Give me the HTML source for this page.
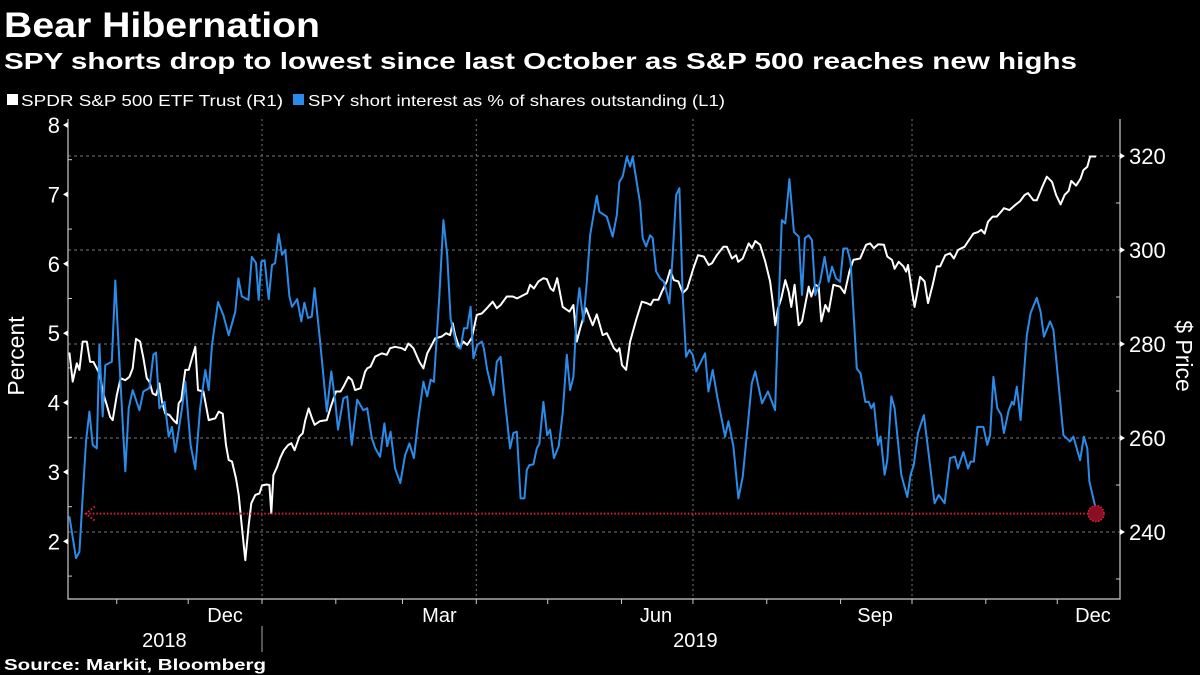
<!DOCTYPE html>
<html><head><meta charset="utf-8"><style>
html,body{margin:0;padding:0;background:#000;}
svg{display:block;font-family:"Liberation Sans",sans-serif;}
</style></head><body>
<svg id="chart" width="1200" height="675" viewBox="0 0 1200 675" xmlns="http://www.w3.org/2000/svg">
<rect x="0" y="0" width="1200" height="675" fill="#000"/>
<text x="4" y="37" fill="#fff" font-size="35" font-weight="bold" textLength="316" lengthAdjust="spacingAndGlyphs">Bear Hibernation</text>
<text x="4" y="69" fill="#fff" font-size="23" font-weight="bold" textLength="1073" lengthAdjust="spacingAndGlyphs">SPY shorts drop to lowest since last October as S&amp;P 500 reaches new highs</text>
<g>
<rect x="7" y="94" width="11" height="11" fill="#fff"/>
<text x="21" y="106" fill="#fff" font-size="16" textLength="262" lengthAdjust="spacingAndGlyphs">SPDR S&amp;P 500 ETF Trust  (R1)</text>
<rect x="293" y="94" width="11" height="11" fill="#2a8be8"/>
<text x="308" y="106" fill="#fff" font-size="16" textLength="417" lengthAdjust="spacingAndGlyphs">SPY short interest as % of shares outstanding (L1)</text>
</g>
<text transform="translate(24,356) rotate(-90)" text-anchor="middle" fill="#fff" font-size="23">Percent</text>
<text transform="translate(1176,356) rotate(90)" text-anchor="middle" fill="#fff" font-size="23">$ Price</text>
<text x="4" y="670" fill="#fff" font-size="16" font-weight="bold" textLength="262" lengthAdjust="spacingAndGlyphs">Source: Markit, Bloomberg</text>
<g id="grid"></g><g id="axes"></g><g id="series"></g>
</svg>
<script>
// x: days since 2019-01-01
const shortDays = [-80.9,-78.1,-76.7,-73.9,-72.5,-71.1,-69.4,-68.3,-66.9,-65.8,-63.1,-61.6,-59.9,-57.4,-56.0,-54.3,-51.5,-49.8,-47.3,-45.6,-44.5,-43.1,-40.9,-39.2,-37.8,-36.4,-33.6,-32.2,-30.0,-28.0,-26.0,-23.8,-22.4,-21.0,-18.5,-16.2,-14.0,-11.2,-9.9,-8.5,-5.7,-4.3,-2.5,-1.4,-0.3,1.1,2.8,4.2,5.5,7.0,8.4,9.8,11.5,12.6,14.8,16.5,17.8,19.3,20.9,22.1,24.4,27.2,29.1,30.8,31.9,34.2,35.8,37.7,40.0,42.6,44.2,46.1,47.6,49.6,51.4,52.6,54.0,55.9,58.1,60.1,61.9,63.8,65.7,67.8,69.4,70.8,72.2,74.5,76.2,77.8,79.2,81.8,83.4,84.8,86.2,87.6,88.8,90.4,92.3,93.2,94.6,97.2,98.6,100.2,102.1,104.2,105.6,107.0,108.6,110.2,111.2,112.3,114.0,115.4,116.5,118.2,119.8,121.0,122.6,124.6,126.3,128.0,129.4,130.8,132.2,133.3,135.0,136.4,137.8,140.6,141.7,144.8,147.3,149.0,150.1,151.5,153.2,154.6,155.7,158.8,159.9,161.3,163.0,164.1,165.5,167.2,168.8,171.1,172.5,173.9,175.3,176.7,178.1,179.5,180.9,182.3,186.1,187.5,189.3,191.2,194.5,195.9,198.0,200.1,201.9,203.6,205.7,207.2,210.0,212.5,215.5,216.9,218.3,219.8,221.5,223.4,225.4,226.8,228.0,229.6,231.0,232.4,234.4,236.3,238.0,239.4,241.1,242.8,244.2,245.8,247.2,249.8,251.4,253.4,254.8,255.9,257.0,258.7,259.8,261.5,262.6,264.3,265.7,268.5,271.0,272.4,273.8,275.5,278.0,279.7,282.5,284.2,286.7,289.0,291.0,292.3,294.6,296.5,297.6,299.0,300.4,303.0,304.6,305.8,307.2,308.8,310.5,311.6,313.6,315.0,315.8,317.0,318.6,321.2,322.8,325.4,327.0,328.4,331.0,332.4,336.6,339.4,340.8,343.6,345.2,346.6,347.5,350.3];
const shortPct = [2.36,1.76,1.85,3.44,3.87,3.39,3.34,4.83,3.80,4.54,4.59,5.76,4.59,3.01,3.92,4.18,3.89,4.16,4.21,4.69,4.72,3.92,4.01,3.51,3.65,3.29,3.92,4.30,3.39,3.04,3.92,4.47,4.18,4.83,5.45,5.26,4.97,5.31,5.79,5.53,5.48,6.10,6.01,5.48,6.03,6.05,5.49,5.98,6.01,6.43,6.13,6.20,5.53,5.38,5.49,5.17,5.44,5.22,5.24,5.65,4.88,3.87,4.45,4.01,3.61,4.06,4.09,3.39,4.04,3.89,3.92,3.49,3.34,3.22,3.70,3.37,3.58,3.05,2.84,3.24,3.41,3.20,3.77,4.30,4.09,4.33,4.30,5.55,6.63,6.13,5.21,4.81,4.78,5.07,5.07,5.38,4.64,4.83,4.88,4.78,4.47,4.11,4.59,4.66,4.01,3.34,3.56,3.58,2.62,2.62,3.03,3.10,3.11,3.34,3.41,4.01,3.53,3.61,3.20,3.37,3.85,4.69,4.18,4.37,5.31,5.65,5.17,5.74,6.41,6.98,6.75,6.68,6.39,6.70,7.18,7.26,7.54,7.40,7.54,6.87,6.37,6.25,6.41,6.37,5.89,5.79,5.74,5.43,6.13,6.99,7.09,5.55,4.66,4.76,4.69,4.45,4.71,4.16,4.47,4.09,3.51,3.73,3.37,2.62,2.93,3.53,4.28,4.45,3.99,4.16,3.89,5.31,6.63,6.58,7.22,6.46,6.39,5.55,6.37,6.41,6.34,5.55,5.74,6.10,5.74,5.96,5.79,5.74,6.22,6.22,6.03,4.49,4.42,4.01,4.01,3.92,3.99,3.39,3.51,2.96,3.17,4.09,3.92,2.96,2.64,2.96,3.11,3.56,3.82,3.34,2.55,2.67,2.55,3.20,3.22,3.05,3.29,3.05,3.15,3.15,3.65,3.65,3.39,3.53,4.37,3.92,3.82,3.56,3.89,4.01,3.97,4.23,3.75,4.97,5.29,5.51,5.31,4.95,5.17,5.05,3.53,3.44,3.51,3.17,3.51,3.34,2.86,2.45];
const priceDays = [-80.9,-79.5,-77.8,-76.7,-75.3,-73.6,-72.2,-70.8,-69.4,-68.0,-66.9,-65.2,-63.8,-62.7,-61.0,-59.4,-57.4,-55.7,-54.3,-52.9,-51.2,-49.8,-48.4,-47.3,-45.9,-44.5,-43.1,-42.0,-40.6,-38.9,-37.2,-35.8,-35.0,-33.9,-32.2,-30.8,-29.4,-28.0,-26.9,-24.6,-22.4,-19.6,-18.2,-16.5,-15.1,-14.0,-12.6,-10.9,-9.8,-8.4,-7.0,-5.6,-4.5,-2.8,-1.1,0.0,1.9,3.1,3.9,4.8,6.4,7.6,9.2,10.9,12.3,13.7,15.7,17.1,18.2,19.6,21.0,22.1,24.4,27.2,28.8,31.1,32.5,33.0,34.2,36.3,37.8,39.1,41.4,43.3,44.2,45.6,47.5,50.3,52.4,53.8,55.9,58.7,60.1,61.5,63.6,66.1,67.8,69.4,71.3,72.7,75.5,77.3,79.0,80.1,81.1,82.9,84.6,86.2,88.1,90.2,92.3,94.4,96.9,98.6,100.2,102.8,105.3,107.2,109.8,111.4,112.6,114.2,116.1,118.2,119.6,121.2,122.4,124.0,126.3,129.1,130.8,132.2,133.6,136.1,138.9,140.6,143.1,144.8,146.2,147.8,149.2,150.1,151.2,152.9,154.6,157.1,159.5,161.6,163.2,164.4,166.5,167.9,170.0,171.4,173.0,174.9,176.7,178.6,181.2,183.1,185.6,187.6,189.0,191.0,193.8,195.2,197.4,199.1,200.0,201.9,204.4,205.8,207.2,209.2,211.4,213.4,214.5,215.6,216.7,218.1,219.8,221.2,222.3,223.7,225.4,226.8,229.6,230.7,232.4,233.8,234.9,236.6,238.0,240.0,242.8,244.7,246.7,248.4,251.2,253.7,255.4,257.0,258.7,259.3,261.2,262.6,264.6,265.7,267.4,269.4,270.5,271.3,273.0,274.1,276.4,278.3,279.7,281.7,283.4,284.8,287.0,289.0,290.6,292.3,295.1,296.5,298.8,300.7,302.1,303.5,304.9,306.9,308.6,310.5,311.6,313.9,316.4,318.4,320.3,321.7,324.0,325.4,327.6,329.6,331.8,333.5,335.4,337.1,338.8,339.9,341.9,343.8,345.0,346.6,347.8,350.3];
const priceUsd = [278.2,272.0,275.9,274.5,280.5,280.5,276.2,276.2,274.8,273.4,269.9,267.0,264.5,263.8,269.1,272.7,272.3,273.0,274.8,281.1,280.5,277.0,272.7,272.0,269.5,269.1,271.6,267.7,265.2,264.9,263.8,263.1,267.4,268.1,274.5,274.5,277.0,279.4,270.2,269.9,263.8,264.2,265.6,265.2,258.5,255.3,255.0,251.4,247.9,240.8,234.0,241.5,246.1,247.9,248.2,249.9,250.1,250.0,244.0,252.1,253.9,255.7,257.4,258.5,258.9,257.4,260.3,261.0,263.8,266.3,264.2,262.8,263.6,263.8,266.5,269.9,269.9,269.9,270.9,273.0,272.3,270.2,270.6,274.1,274.8,275.2,277.3,278.0,277.7,279.1,279.4,279.1,278.7,280.1,279.1,276.2,274.8,278.0,279.8,281.2,281.6,282.3,281.9,284.4,281.9,279.1,280.5,279.8,281.3,286.2,286.5,287.6,289.0,287.6,288.3,290.1,290.1,289.7,290.4,290.8,292.6,291.8,293.3,294.0,293.8,291.8,291.3,294.0,287.9,286.9,288.3,280.5,283.3,287.6,284.0,286.3,281.9,282.3,280.9,279.1,278.4,279.1,275.5,274.5,280.5,285.1,289.0,288.7,288.3,289.4,289.4,291.1,293.3,295.7,293.6,293.3,290.8,291.8,296.1,298.9,298.6,296.8,297.2,298.9,300.7,300.7,298.2,298.9,297.5,298.2,301.4,300.4,301.9,301.1,297.5,293.3,289.0,284.0,287.6,289.7,293.6,291.1,287.9,292.6,284.0,284.8,292.2,290.1,292.6,292.2,284.8,288.3,286.9,292.6,292.2,290.8,295.4,297.9,298.2,301.1,301.4,300.4,301.2,301.2,301.1,298.6,297.9,296.0,297.5,296.5,295.4,296.8,291.1,287.9,294.3,293.3,288.7,292.6,296.5,296.5,298.9,299.3,298.2,300.0,300.7,301.8,303.5,303.8,304.3,303.5,306.0,307.1,307.1,308.2,308.9,308.5,309.6,310.4,311.7,312.1,310.6,310.6,313.3,315.6,314.5,311.7,309.7,311.7,312.6,314.7,313.7,315.2,317.0,317.7,319.9,319.9];
const markerLevel = [2.40];
const leftTicks = [2,3,4,5,6,7,8];
const rightTicks = [240,260,280,300,320];
const monthTickDays = [-61,-31,0,31,59,90,120,151,181,212,243,273,304,334];
const gridDays = [0,90,181,273];
const monthLabels = ["Dec","Mar","Jun","Sep","Dec"];
const monthLabelDays = [-15.5,74.5,165.5,257.5,349];
const yearLabels = ["2018","2019"];
const yearLabelDays = [-41,182];

const NS="http://www.w3.org/2000/svg";
const X0=68,X1=1120,Y0=119,Y1=599;
const xs=d=>262+d*2.381;
const yL=v=>125+(8-v)*69.4;
const yR=p=>156+(320-p)*4.7;
function mk(parent,tag,attrs,txt){const e=document.createElementNS(NS,tag);for(const k in attrs)e.setAttribute(k,attrs[k]);if(txt!==undefined)e.textContent=txt;document.getElementById(parent).appendChild(e);return e;}

rightTicks.forEach(p=>{
  const g=mk('grid','line',{x1:X0,x2:X1,y1:yR(p),y2:yR(p),stroke:'#777','stroke-width':1,'stroke-dasharray':'3,3'});
  
  
});
gridDays.forEach(d=>{
  const g=mk('grid','line',{x1:xs(d),x2:xs(d),y1:Y0,y2:Y1,stroke:'#777','stroke-width':1,'stroke-dasharray':'2,3'});
  
  
});
// axes
let a=mk('axes','polyline',{points:`${X0},${Y0} ${X0},${Y1} ${X1},${Y1} ${X1},${Y0}`,fill:'none',stroke:'#ccc','stroke-width':1.2});


leftTicks.forEach(v=>{
  const t=mk('axes','polygon',{points:`${X0},${yL(v)-3} ${X0},${yL(v)+3} ${X0-5},${yL(v)}`,fill:'#fff'});
  
  
  const m=mk('axes','line',{x1:X0,x2:X0+4,y1:yL(v-0.5),y2:yL(v-0.5),stroke:'#ccc'});
  
  
  const l=mk('axes','text',{x:X0-8,y:yL(v)+8,'text-anchor':'end',fill:'#fff','font-size':22},String(v));
  
  
});
rightTicks.forEach(p=>{
  const t=mk('axes','polygon',{points:`${X1},${yR(p)-3} ${X1},${yR(p)+3} ${X1+5},${yR(p)}`,fill:'#fff'});
  
  
  const m=mk('axes','line',{x1:X1-4,x2:X1,y1:yR(p-10),y2:yR(p-10),stroke:'#ccc'});
  
  
  const l=mk('axes','text',{x:X1+9,y:yR(p)+8,fill:'#fff','font-size':22},String(p));
  
  
});
monthTickDays.forEach(d=>{
  const t=mk('axes','line',{x1:xs(d),x2:xs(d),y1:Y1,y2:Y1+5,stroke:'#ccc'});
  
  
});
monthLabels.forEach((s,i)=>{
  const l=mk('axes','text',{x:xs(monthLabelDays[i]),y:622,'text-anchor':'middle',fill:'#fff','font-size':20},s);
  
  
});
yearLabels.forEach((s,i)=>{
  const l=mk('axes','text',{x:xs(yearLabelDays[i]),y:647,'text-anchor':'middle',fill:'#fff','font-size':20},s);
  
  
});
let sep=mk('axes','line',{x1:xs(0),x2:xs(0),y1:626,y2:652,stroke:'#aaa'});



// series
let pw=mk('series','polyline',{points:priceDays.map((d,i)=>xs(d).toFixed(1)+','+yR(priceUsd[i]).toFixed(1)).join(' '),fill:'none',stroke:'#fff','stroke-width':2,'stroke-linejoin':'round'});


let pb=mk('series','polyline',{points:shortDays.map((d,i)=>xs(d).toFixed(1)+','+yL(shortPct[i]).toFixed(1)).join(' '),fill:'none',stroke:'#2a8be8','stroke-width':2,'stroke-linejoin':'round'});


const lastD=shortDays[shortDays.length-1];
const ry=yL(markerLevel[0]);
let rl=mk('series','line',{x1:xs(-74),x2:xs(lastD)-6,y1:ry,y2:ry,stroke:'#e0203a','stroke-width':2,'stroke-dasharray':'1.5,2'});


let ar=mk('series','polyline',{points:`${xs(-74)+9},${ry-7} ${xs(-74)},${ry} ${xs(-74)+9},${ry+7}`,fill:'none',stroke:'#e0203a','stroke-width':2,'stroke-dasharray':'1.5,2'});


let c=mk('series','circle',{cx:xs(lastD),cy:ry,r:8,fill:'#8a0f25',stroke:'#e0203a','stroke-width':1.5,'stroke-dasharray':'1.5,1.5'});


</script>
</body></html>
